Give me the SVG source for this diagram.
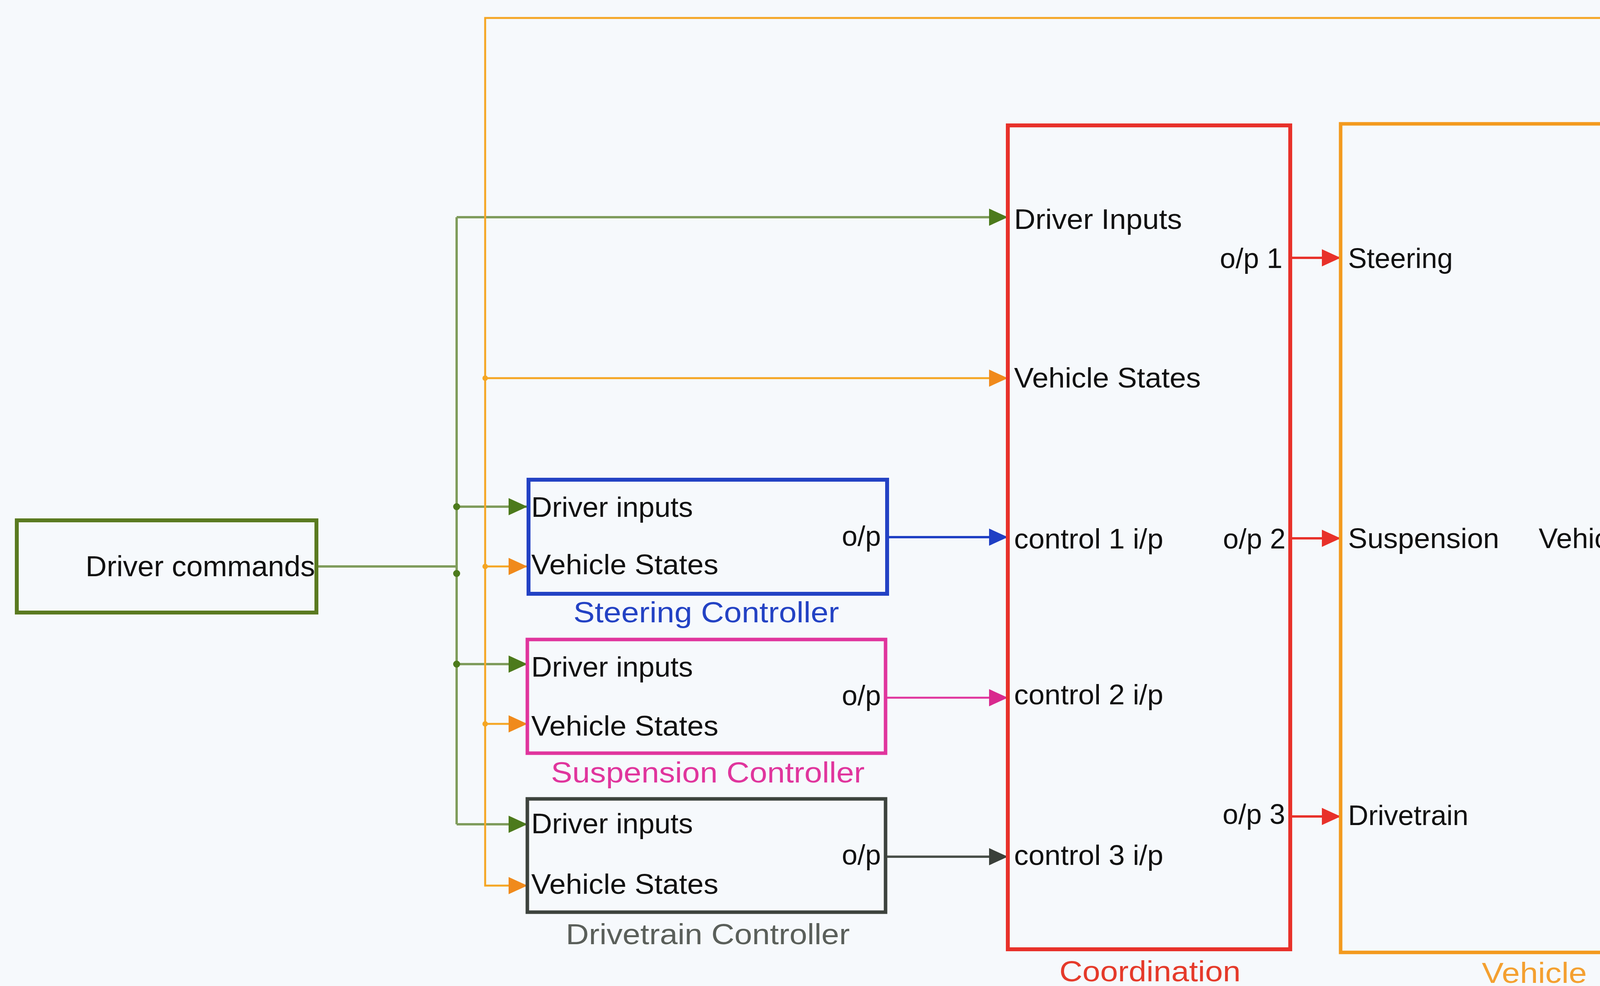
<svg xmlns="http://www.w3.org/2000/svg" width="4518" height="2524" viewBox="0 0 4518 2524">
<defs>
<style>
text{font-family:"Liberation Sans",Arial,Helvetica,sans-serif;font-size:72px;fill:#111;}
.lbl{font-size:74px;}
.box{fill:none;}
.ln{fill:none;}
.g{stroke:#7f9c5c;stroke-width:6;}
.o{stroke:#f5a623;stroke-width:5;}
.b{stroke:#1f3fc4;stroke-width:6;}
.m{stroke:#e0359d;stroke-width:5;}
.d{stroke:#4a504a;stroke-width:6;}
.r{stroke:#e8312a;stroke-width:6;}
</style>
<marker id="ag" markerUnits="userSpaceOnUse" markerWidth="48" markerHeight="44" viewBox="0 0 48 44" refX="48" refY="22" orient="auto"><path d="M0,0 L48,22 L0,44 z" fill="#4c7a1c"/></marker>
<marker id="ao" markerUnits="userSpaceOnUse" markerWidth="48" markerHeight="44" viewBox="0 0 48 44" refX="48" refY="22" orient="auto"><path d="M0,0 L48,22 L0,44 z" fill="#f08a1c"/></marker>
<marker id="ab" markerUnits="userSpaceOnUse" markerWidth="48" markerHeight="44" viewBox="0 0 48 44" refX="48" refY="22" orient="auto"><path d="M0,0 L48,22 L0,44 z" fill="#1f3fc4"/></marker>
<marker id="am" markerUnits="userSpaceOnUse" markerWidth="48" markerHeight="44" viewBox="0 0 48 44" refX="48" refY="22" orient="auto"><path d="M0,0 L48,22 L0,44 z" fill="#d92a8e"/></marker>
<marker id="ad" markerUnits="userSpaceOnUse" markerWidth="48" markerHeight="44" viewBox="0 0 48 44" refX="48" refY="22" orient="auto"><path d="M0,0 L48,22 L0,44 z" fill="#3a403a"/></marker>
<marker id="ar" markerUnits="userSpaceOnUse" markerWidth="48" markerHeight="44" viewBox="0 0 48 44" refX="48" refY="22" orient="auto"><path d="M0,0 L48,22 L0,44 z" fill="#e8312a"/></marker>
</defs>
<rect x="0" y="0" width="4518" height="2524" fill="#f6f9fc"/>

<g id="connectors">
  <path class="ln g" d="M810,1450 H1169"/>
  <path class="ln g" d="M1169,556 V2110"/>
  <path class="ln g" d="M1169,556 H2580" marker-end="url(#ag)"/>
  <path class="ln g" d="M1169,1297 H1350" marker-end="url(#ag)"/>
  <path class="ln g" d="M1169,1700 H1350" marker-end="url(#ag)"/>
  <path class="ln g" d="M1169,2110 H1350" marker-end="url(#ag)"/>
  <circle cx="1169" cy="1297" r="9" fill="#4c7a1c"/>
  <circle cx="1169" cy="1468" r="9" fill="#4c7a1c"/>
  <circle cx="1169" cy="1700" r="9" fill="#4c7a1c"/>

  <path class="ln o" d="M4412,1380 H4512 V46 H1242 V2267 H1350" marker-end="url(#ao)"/>
  <path class="ln o" d="M1242,968 H2580" marker-end="url(#ao)"/>
  <path class="ln o" d="M1242,1450 H1350" marker-end="url(#ao)"/>
  <path class="ln o" d="M1242,1853 H1350" marker-end="url(#ao)"/>
  <circle cx="1242" cy="968" r="7" fill="#f5a623"/>
  <circle cx="1242" cy="1450" r="7" fill="#f5a623"/>
  <circle cx="1242" cy="1853" r="7" fill="#f5a623"/>

  <path class="ln b" d="M2271,1375 H2580" marker-end="url(#ab)"/>
  <path class="ln m" d="M2267,1786 H2580" marker-end="url(#am)"/>
  <path class="ln d" d="M2267,2193 H2580" marker-end="url(#ad)"/>

  <path class="ln r" d="M3303,660 H3432" marker-end="url(#ar)"/>
  <path class="ln r" d="M3303,1378 H3432" marker-end="url(#ar)"/>
  <path class="ln r" d="M3303,2090 H3432" marker-end="url(#ar)"/>
</g>

<g id="driver-commands">
  <rect class="box" x="43" y="1332" width="767" height="236" stroke="#5a7a20" stroke-width="10"/>
  <text x="219" y="1475" style="font-size:75px">Driver commands</text>
</g>

<g id="steering-controller">
  <rect class="box" x="1353" y="1228" width="918" height="292" stroke="#2342c4" stroke-width="10"/>
  <text x="1360" y="1323" textLength="414" lengthAdjust="spacingAndGlyphs">Driver inputs</text>
  <text x="1360" y="1470" textLength="479" lengthAdjust="spacingAndGlyphs">Vehicle States</text>
  <text x="2255" y="1397" text-anchor="end">o/p</text>
  <text class="lbl" x="1808" y="1593" text-anchor="middle" textLength="680" lengthAdjust="spacingAndGlyphs" style="fill:#2342c4">Steering Controller</text>
</g>

<g id="suspension-controller">
  <rect class="box" x="1350" y="1637" width="917" height="291" stroke="#e0359d" stroke-width="9"/>
  <text x="1360" y="1732" textLength="414" lengthAdjust="spacingAndGlyphs">Driver inputs</text>
  <text x="1360" y="1883" textLength="479" lengthAdjust="spacingAndGlyphs">Vehicle States</text>
  <text x="2255" y="1805" text-anchor="end">o/p</text>
  <text class="lbl" x="1812" y="2003" text-anchor="middle" textLength="803" lengthAdjust="spacingAndGlyphs" style="fill:#e0359d">Suspension Controller</text>
</g>

<g id="drivetrain-controller">
  <rect class="box" x="1350" y="2045" width="917" height="290" stroke="#3d433d" stroke-width="9"/>
  <text x="1360" y="2133" textLength="414" lengthAdjust="spacingAndGlyphs">Driver inputs</text>
  <text x="1360" y="2288" textLength="479" lengthAdjust="spacingAndGlyphs">Vehicle States</text>
  <text x="2255" y="2213" text-anchor="end">o/p</text>
  <text class="lbl" x="1812" y="2417" text-anchor="middle" textLength="727" lengthAdjust="spacingAndGlyphs" style="fill:#5a5f5a">Drivetrain Controller</text>
</g>

<g id="coordination">
  <rect class="box" x="2580" y="321" width="723" height="2109" stroke="#e8312a" stroke-width="10"/>
  <text x="2596" y="586" textLength="430" lengthAdjust="spacingAndGlyphs">Driver Inputs</text>
  <text x="3283" y="686" text-anchor="end">o/p 1</text>
  <text x="2596" y="992" textLength="478" lengthAdjust="spacingAndGlyphs">Vehicle States</text>
  <text x="2596" y="1404" textLength="382" lengthAdjust="spacingAndGlyphs">control 1 i/p</text>
  <text x="3291" y="1404" text-anchor="end">o/p 2</text>
  <text x="2596" y="1803" textLength="382" lengthAdjust="spacingAndGlyphs">control 2 i/p</text>
  <text x="3290" y="2109" text-anchor="end">o/p 3</text>
  <text x="2596" y="2214" textLength="382" lengthAdjust="spacingAndGlyphs">control 3 i/p</text>
  <text class="lbl" x="2944" y="2512" text-anchor="middle" textLength="464" lengthAdjust="spacingAndGlyphs" style="fill:#e53a2a">Coordination</text>
</g>

<g id="vehicle">
  <rect class="box" x="3432" y="317" width="980" height="2121" stroke="#f39a1e" stroke-width="9"/>
  <text x="3451" y="686">Steering</text>
  <text x="3451" y="1403" textLength="387" lengthAdjust="spacingAndGlyphs">Suspension</text>
  <text x="4404" y="1403" text-anchor="end" textLength="465" lengthAdjust="spacingAndGlyphs">Vehicle States</text>
  <text x="3451" y="2112">Drivetrain</text>
  <text class="lbl" x="3928" y="2516" text-anchor="middle" textLength="269" lengthAdjust="spacingAndGlyphs" style="fill:#f4a030">Vehicle</text>
</g>
</svg>
